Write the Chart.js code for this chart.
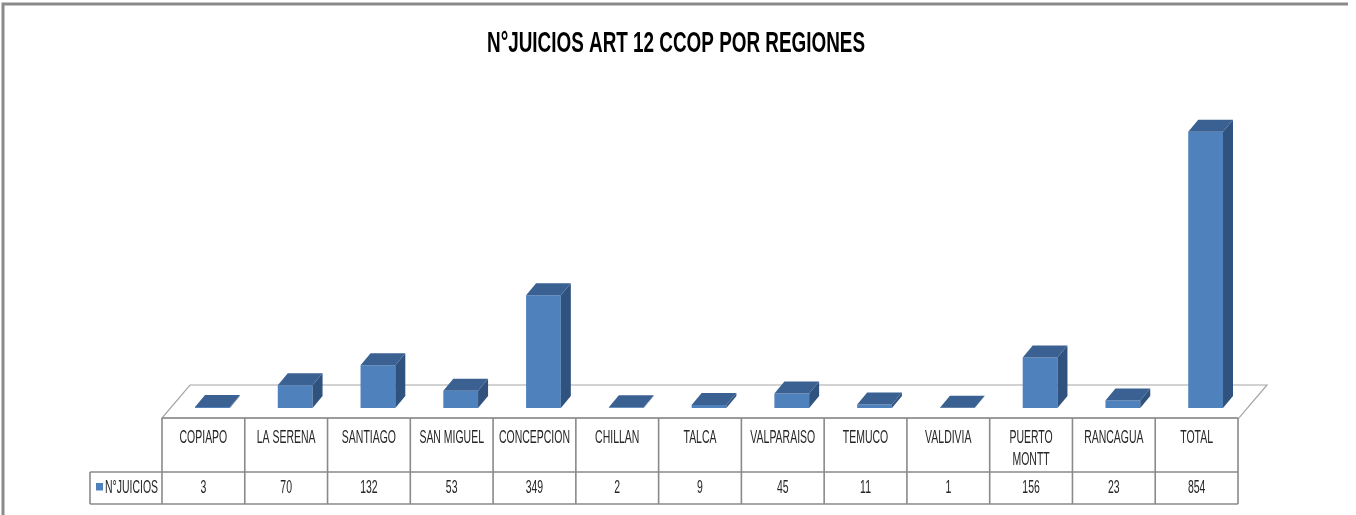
<!DOCTYPE html>
<html>
<head>
<meta charset="utf-8">
<script src="https://cdn.jsdelivr.net/npm/chart.js@4.4.1/dist/chart.umd.min.js"></script>
<style>
  html, body { margin: 0; padding: 0; background: #ffffff; }
  #wrap { width: 1356px; height: 515px; position: relative; }
</style>
</head>
<body>
<div id="wrap"><canvas id="c"></canvas></div>
<script>
const TITLE = 'N°JUICIOS ART 12 CCOP POR REGIONES';
const SERIES_NAME = 'N°JUICIOS';
const categories = ['COPIAPO', 'LA SERENA', 'SANTIAGO', 'SAN MIGUEL', 'CONCEPCION', 'CHILLAN', 'TALCA',
  'VALPARAISO', 'TEMUCO', 'VALDIVIA', ['PUERTO', 'MONTT'], 'RANCAGUA', 'TOTAL'];
const juicios = [3, 70, 132, 53, 349, 2, 9, 45, 11, 1, 156, 23, 854];

const FONT_FAMILY = '"Liberation Sans Narrow", "Arial Narrow", "Liberation Sans", Arial, sans-serif';
const FRONT = '#4F81BD', TOP = '#3B6193', SIDE = '#30527E';
const DX = 10, DY = 12;      // bar depth
const SHIFT = 9;             // table/floor offset relative to bars

function scaledText(ctx, text, x, y, font, sx, color) {
  ctx.save();
  ctx.font = font;
  ctx.fillStyle = color;
  ctx.textAlign = 'center';
  ctx.textBaseline = 'middle';
  ctx.translate(x, y);
  ctx.scale(sx, 1);
  ctx.fillText(text, 0, 0);
  ctx.restore();
}
function fitScale(ctx, font, sample, target) {
  ctx.save(); ctx.font = font;
  const w = ctx.measureText(sample).width;
  ctx.restore();
  return w > 0 ? target / w : 1;
}

const threeD = {
  id: 'threeD',
  beforeDraw(chart) {
    const ctx = chart.ctx;
    ctx.save();
    ctx.strokeStyle = '#8a8a8a';
    ctx.lineWidth = 3;
    ctx.beginPath();
    ctx.moveTo(3, 515); ctx.lineTo(3, 4); ctx.lineTo(1348, 4);
    ctx.stroke();
    ctx.restore();
  },
  beforeDatasetsDraw(chart) {
    const ctx = chart.ctx, a = chart.chartArea;
    ctx.save();
    ctx.fillStyle = '#ffffff';
    ctx.strokeStyle = '#a6a6a6';
    ctx.lineWidth = 1.2;
    ctx.beginPath();
    ctx.moveTo(a.left - SHIFT, a.bottom + 10);
    ctx.lineTo(a.right - SHIFT + 1, a.bottom + 10);
    ctx.lineTo(a.right + 20, a.bottom - 23);
    ctx.lineTo(a.left + 19, a.bottom - 23);
    ctx.closePath();
    ctx.fill();
    ctx.stroke();
    ctx.restore();
  },
  afterDatasetsDraw(chart) {
    const ctx = chart.ctx;
    const meta = chart.getDatasetMeta(0);
    ctx.save();
    meta.data.forEach(bar => {
      const p = bar.getProps(['x', 'y', 'base', 'width'], true);
      const l = p.x - p.width / 2, r = p.x + p.width / 2;
      const t = p.y, b = p.base;
      ctx.fillStyle = SIDE;
      ctx.beginPath();
      ctx.moveTo(r, t); ctx.lineTo(r + DX, t - DY); ctx.lineTo(r + DX, b - DY); ctx.lineTo(r, b);
      ctx.closePath(); ctx.fill();
      ctx.fillStyle = TOP;
      ctx.beginPath();
      ctx.moveTo(l, t); ctx.lineTo(r, t); ctx.lineTo(r + DX, t - DY); ctx.lineTo(l + DX, t - DY);
      ctx.closePath(); ctx.fill();
    });
    ctx.restore();
  },
  afterDraw(chart) {
    const ctx = chart.ctx, a = chart.chartArea;
    const xs = chart.scales.x;
    const n = categories.length;
    const colW = (a.right - a.left) / n;
    const left = a.left - SHIFT, right = left + colW * n;
    const yTop = a.bottom + 10, yMid = yTop + 54, yBot = yMid + 32;

    const tFont = 'bold 29px ' + FONT_FAMILY;
    const tsx = fitScale(ctx, tFont, TITLE, 378);
    scaledText(ctx, TITLE, 676, 44, tFont, tsx, '#000000');

    ctx.save();
    ctx.strokeStyle = '#8a8a8a';
    ctx.lineWidth = 1.6;
    ctx.beginPath();
    ctx.moveTo(left, yTop); ctx.lineTo(right, yTop);
    ctx.moveTo(90, yMid); ctx.lineTo(right, yMid);
    ctx.moveTo(90, yBot); ctx.lineTo(right, yBot);
    ctx.moveTo(90, yMid); ctx.lineTo(90, yBot);
    for (let i = 0; i <= n; i++) {
      const x = left + i * colW;
      ctx.moveTo(x, yTop); ctx.lineTo(x, yBot);
    }
    ctx.stroke();
    ctx.restore();

    const font = '17.5px ' + FONT_FAMILY;
    const sx = fitScale(ctx, font, 'CONCEPCION', 71);
    const color = '#262626';
    categories.forEach((c, i) => {
      const cx = xs.getPixelForValue(i) - SHIFT;
      const lines = Array.isArray(c) ? c : [c];
      lines.forEach((ln, k) => scaledText(ctx, ln, cx, yTop + 20 + k * 22, font, sx, color));
      scaledText(ctx, String(juicios[i]), cx, yMid + 16, font, sx, color);
    });
    ctx.save();
    ctx.fillStyle = FRONT;
    ctx.fillRect(96, 483, 7, 7.5);
    ctx.restore();
    const lsx = fitScale(ctx, font, SERIES_NAME, 53);
    scaledText(ctx, SERIES_NAME, 105 + 26.5, yMid + 16, font, lsx, color);
  }
};

new Chart(document.getElementById('c'), {
  type: 'bar',
  data: {
    labels: categories,
    datasets: [{
      label: SERIES_NAME,
      data: juicios,
      backgroundColor: FRONT,
      borderWidth: 0,
      categoryPercentage: 1,
      barPercentage: 0.42
    }]
  },
  options: {
    responsive: true,
    maintainAspectRatio: false,
    animation: false,
    layout: { padding: { left: 171, right: 109, top: 117, bottom: 107 } },
    plugins: { legend: { display: false }, tooltip: { enabled: false }, title: { display: false } },
    scales: {
      x: { display: false },
      y: { display: false, min: 0, max: 900 }
    }
  },
  plugins: [threeD]
});
</script>
</body>
</html>
